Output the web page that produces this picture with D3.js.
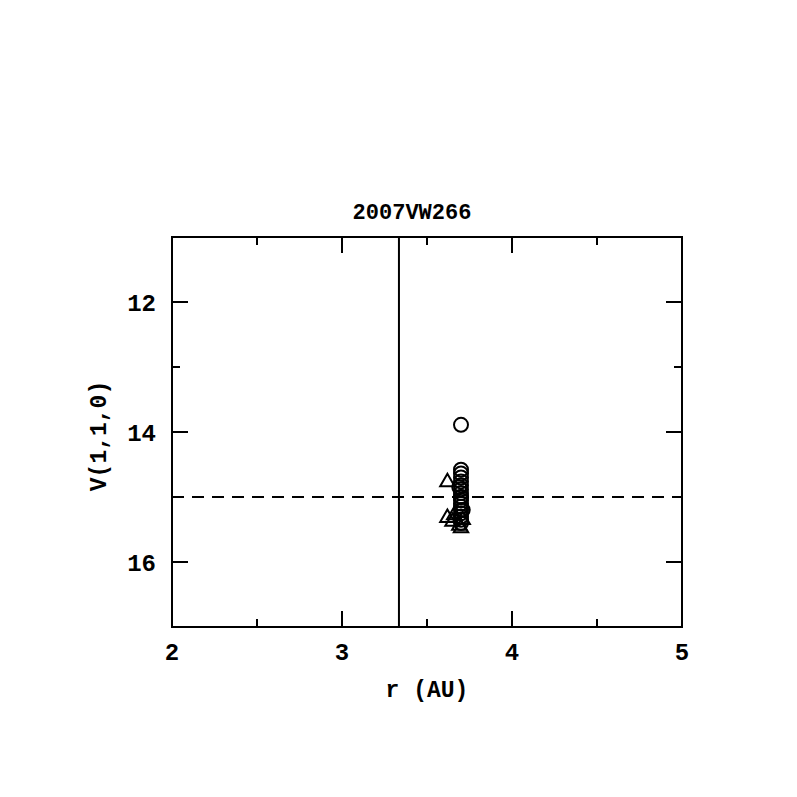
<!DOCTYPE html>
<html>
<head>
<meta charset="utf-8">
<script src="https://cdn.jsdelivr.net/npm/d3@7"></script>
<style>
  body { margin: 0; background: #fff; }
  text { font-family: "Liberation Mono", "DejaVu Sans Mono", monospace; font-weight: bold; fill: #000; }
</style>
</head>
<body>
<div id="chart"></div>
<script>
  var title = '2007VW266';
  var xTicks = [2, 3, 4, 5];
  var yTicks = [12, 14, 16];
  var refR = 3.335;   // vertical line
  var refV = 15;      // dashed line

  // circles
  var circR = [3.70, 3.70, 3.70, 3.70, 3.70, 3.70, 3.70, 3.70, 3.70, 3.70,
               3.70, 3.70, 3.70, 3.70, 3.70, 3.70, 3.70, 3.70, 3.69, 3.71];
  var circV = [13.89, 14.58, 14.64, 14.70, 14.76, 14.82, 14.88, 14.94, 15.00, 15.05,
               15.10, 15.15, 15.20, 15.25, 15.30, 15.35, 15.40, 15.00, 14.85, 15.20];
  // triangles
  var triR = [3.62, 3.62, 3.65, 3.66, 3.69, 3.70, 3.71];
  var triV = [14.77, 15.32, 15.38, 15.28, 15.44, 15.48, 15.35];

  var W = 797, H = 797;
  var margin = { left: 172, right: 115, top: 237, bottom: 170 };

  var svg = d3.select('#chart').append('svg')
      .attr('width', W)
      .attr('height', H);

  var x = d3.scaleLinear().domain([2, 5]).range([margin.left, W - margin.right]);
  var y = d3.scaleLinear().domain([11, 17]).range([margin.top, H - margin.bottom]);

  var g = svg.append('g');

  // frame
  g.append('rect')
    .attr('x', x(2)).attr('y', y(11))
    .attr('width', x(5) - x(2)).attr('height', y(17) - y(11))
    .attr('fill', 'none').attr('stroke', '#000').attr('stroke-width', 2);

  // ticks
  var xMinor = d3.range(2.5, 5, 1);
  var yMinor = d3.range(11, 17.5, 2);
  var tickData = [];
  xTicks.forEach(function(v) { tickData.push({ axis: 'x', v: v, len: 16 }); });
  xMinor.forEach(function(v) { tickData.push({ axis: 'x', v: v, len: 8 }); });
  yTicks.forEach(function(v) { tickData.push({ axis: 'y', v: v, len: 16 }); });
  yMinor.forEach(function(v) { tickData.push({ axis: 'y', v: v, len: 8 }); });

  tickData.forEach(function(t) {
    if (t.axis === 'x') {
      g.append('line').attr('x1', x(t.v)).attr('x2', x(t.v))
        .attr('y1', y(17)).attr('y2', y(17) - t.len)
        .attr('stroke', '#000').attr('stroke-width', 2);
      g.append('line').attr('x1', x(t.v)).attr('x2', x(t.v))
        .attr('y1', y(11)).attr('y2', y(11) + t.len)
        .attr('stroke', '#000').attr('stroke-width', 2);
    } else {
      g.append('line').attr('y1', y(t.v)).attr('y2', y(t.v))
        .attr('x1', x(2)).attr('x2', x(2) + t.len)
        .attr('stroke', '#000').attr('stroke-width', 2);
      g.append('line').attr('y1', y(t.v)).attr('y2', y(t.v))
        .attr('x1', x(5)).attr('x2', x(5) - t.len)
        .attr('stroke', '#000').attr('stroke-width', 2);
    }
  });

  // tick labels
  g.selectAll('.xlab').data(xTicks).enter().append('text')
    .attr('x', function(d) { return x(d); })
    .attr('y', y(17) + 33)
    .attr('text-anchor', 'middle')
    .style('font-size', '24px')
    .text(function(d) { return d; });

  g.selectAll('.ylab').data(yTicks).enter().append('text')
    .attr('x', x(2) - 16)
    .attr('y', function(d) { return y(d) + 9; })
    .attr('text-anchor', 'end')
    .style('font-size', '24px')
    .text(function(d) { return d; });

  // axis titles
  svg.append('text')
    .attr('x', 427)
    .attr('y', y(17) + 70)
    .attr('text-anchor', 'middle')
    .style('font-size', '23px')
    .text('r (AU)');

  svg.append('text')
    .attr('transform', 'translate(106,' + (y(14) + 4) + ') rotate(-90)')
    .attr('text-anchor', 'middle')
    .style('font-size', '23px')
    .text('V(1,1,0)');

  svg.append('text')
    .attr('x', 412)
    .attr('y', y(11) - 18)
    .attr('text-anchor', 'middle')
    .style('font-size', '22px')
    .text(title);

  // reference lines
  g.append('line')
    .attr('x1', x(refR)).attr('x2', x(refR))
    .attr('y1', y(11)).attr('y2', y(17))
    .attr('stroke', '#000').attr('stroke-width', 2);

  g.append('line')
    .attr('x1', x(2)).attr('x2', x(5))
    .attr('y1', y(refV)).attr('y2', y(refV))
    .attr('stroke', '#000').attr('stroke-width', 2)
    .attr('stroke-dasharray', '12,8');

  // points
  var circles = circR.map(function(r, i) { return { r: r, v: circV[i] }; });
  var tris = triR.map(function(r, i) { return { r: r, v: triV[i] }; });

  g.selectAll('.circ').data(circles).enter().append('circle')
    .attr('cx', function(d) { return x(d.r); })
    .attr('cy', function(d) { return y(d.v); })
    .attr('r', 7)
    .attr('fill', 'none').attr('stroke', '#000').attr('stroke-width', 2);

  var triSym = d3.symbol().type(d3.symbolTriangle).size(90);
  g.selectAll('.tri').data(tris).enter().append('path')
    .attr('transform', function(d) { return 'translate(' + x(d.r) + ',' + y(d.v) + ')'; })
    .attr('d', triSym)
    .attr('fill', 'none').attr('stroke', '#000').attr('stroke-width', 2);
</script>
</body>
</html>
